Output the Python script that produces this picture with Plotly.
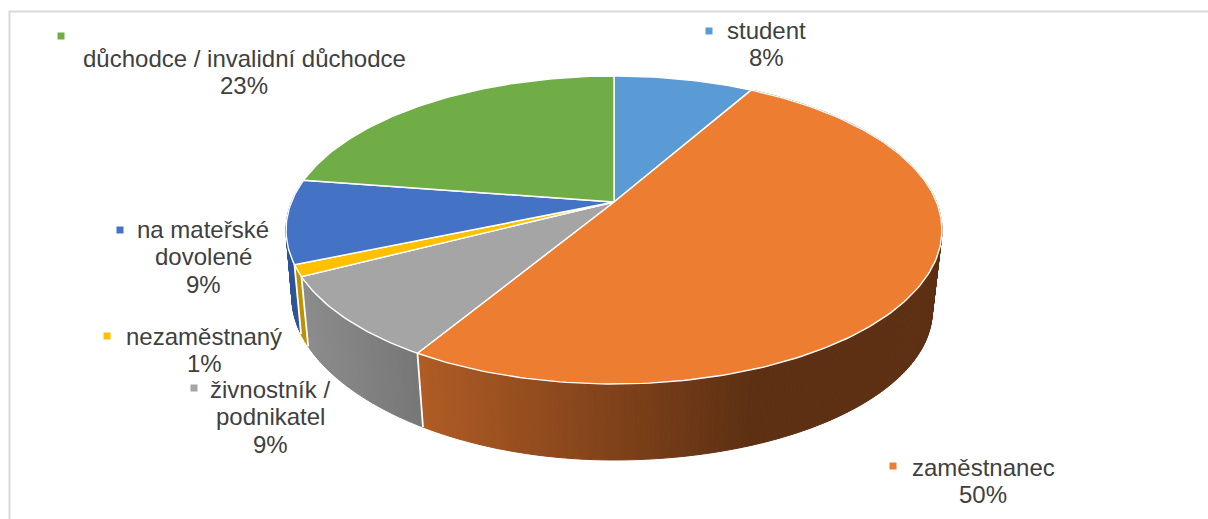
import math
import plotly.graph_objects as go

# ---- data ----
categories = [["student"], ["zaměstnanec"], ["živnostník /", "podnikatel"], ["nezaměstnaný"],
              ["na mateřské", "dovolené"], ["důchodce / invalidní důchodce"]]
values = [8.2, 50.4, 8.8, 1.2, 8.8, 22.6]
percent_labels = ["8%", "50%", "9%", "1%", "9%", "23%"]
top_colors = ["#5B9BD5", "#ED7D31", "#A5A5A5", "#FFC000", "#4472C4", "#70AD47"]
wall_left = [None, "#B05C24", "#8C8C8C", "#BF9000", "#2F5597", None]
wall_right = [None, "#5E3013", "#777777", "#BF9000", "#2F5597", None]

# ---- layout of the labels ----
label_x = [766, 983, 270, 204, 203, 244]
label_y0 = [30, 467, 389, 336, 229, 58]
key_x = [709, 893, 194, 107, 120, 61]
key_y = [31, 466, 388, 336, 230, 36]
LINE_STEP = 27.7
TEXT = "#404040"
FONT = "Liberation Sans"
FS = 24

# ---- perspective projection of the pie ----
K = 0.1818
CX = 614
TOP = dict(a=322.5, b=148.9, y0=202, lift=0, spread=0)
BOT = dict(a=313.0, b=144.4, y0=283.5, lift=12, spread=4)


def proj(deg, p):
    t = math.radians(deg)
    u, v = math.sin(t), math.cos(t)
    w = 1 + K * v
    x = CX + p["a"] * u / w
    y = p["y0"] - p["b"] * v / w
    if u < 0:  # the base of the reference drawing is slightly asymmetric on the left
        x -= p["spread"] * u ** 4
        y -= p["lift"] * u ** 2
    return x, y


def lerp_hex(c1, c2, f):
    a = [int(c1[i:i + 2], 16) for i in (1, 3, 5)]
    b = [int(c2[i:i + 2], 16) for i in (1, 3, 5)]
    return "#%02x%02x%02x" % tuple(round(x + (y - x) * f) for x, y in zip(a, b))


total = sum(values)
edges = [0.0]
for val in values:
    edges.append(edges[-1] + val / total * 360)

fig = go.Figure()


def poly(xs, ys, fill, line=None, lw=0.0):
    fig.add_trace(go.Scatter(x=xs, y=ys, mode="lines", fill="toself", fillcolor=fill,
                             line=dict(color=line or fill, width=lw),
                             hoverinfo="skip", showlegend=False))


# chart frame
fig.add_trace(go.Scatter(x=[9.5, 9.5, 1208], y=[519, 11.5, 11.5], mode="lines",
                         line=dict(color="#D9D9D9", width=2), hoverinfo="skip", showlegend=False))

# side walls, back to front
strips = []
for i in range(len(values)):
    if wall_left[i] is None:
        continue
    a0, a1 = edges[i], edges[i + 1]
    n = max(2, int((a1 - a0) / 0.75))
    x_lo = proj(a1, BOT)[0] if i != 1 else 423
    x_hi = proj(a0, BOT)[0] if i != 1 else 745
    for j in range(n):
        s0 = a0 + (a1 - a0) * j / n
        s1 = a0 + (a1 - a0) * (j + 1) / n
        mid = (s0 + s1) / 2
        xm = proj(mid, BOT)[0]
        f = min(1, max(0, (xm - x_lo) / max(1, x_hi - x_lo)))
        strips.append((math.cos(math.radians(mid)), s0, s1,
                       lerp_hex(wall_left[i], wall_right[i], f)))
strips.sort(key=lambda s: -s[0])
for _, s0, s1, col in strips:
    p = [proj(s0, TOP), proj(s1, TOP), proj(s1, BOT), proj(s0, BOT), proj(s0, TOP)]
    poly([q[0] for q in p], [q[1] for q in p], col, col, 1.0)

# wall seams
for i in (2, 3, 4):
    t, b = proj(edges[i], TOP), proj(edges[i], BOT)
    fig.add_trace(go.Scatter(x=[t[0], b[0]], y=[t[1], b[1]], mode="lines",
                             line=dict(color="#FFFFFF", width=1.8),
                             hoverinfo="skip", showlegend=False))

# top face
for i in range(len(values)):
    a0, a1 = edges[i], edges[i + 1]
    n = max(4, int(a1 - a0))
    pts = [proj(a0 + (a1 - a0) * j / n, TOP) for j in range(n + 1)]
    xs = [CX] + [q[0] for q in pts] + [CX]
    ys = [TOP["y0"]] + [q[1] for q in pts] + [TOP["y0"]]
    poly(xs, ys, top_colors[i], "#FFFFFF", 1.4)

# legend keys inside the labels
for i in range(len(values)):
    fig.add_trace(go.Scatter(x=[key_x[i]], y=[key_y[i]], mode="markers",
                             marker=dict(symbol="square", size=7, color=top_colors[i]),
                             hoverinfo="skip", showlegend=False))

# labels, one annotation per line so that the leading matches
for i in range(len(values)):
    for n, line in enumerate(categories[i] + [percent_labels[i]]):
        fig.add_annotation(x=label_x[i], y=label_y0[i] + n * LINE_STEP, text=line,
                           showarrow=False, xanchor="center", yanchor="middle", align="center",
                           font=dict(family=FONT, size=FS, color=TEXT))

fig.update_layout(width=1208, height=519, margin=dict(l=0, r=0, t=0, b=0),
                  paper_bgcolor="#FFFFFF", plot_bgcolor="#FFFFFF", showlegend=False,
                  xaxis=dict(range=[0, 1208], visible=False, fixedrange=True),
                  yaxis=dict(range=[519, 0], visible=False, fixedrange=True))
fig.write_html("out.html", config=dict(displayModeBar=False),
               post_script="document.body.style.margin='0';document.body.style.overflow='hidden';")
